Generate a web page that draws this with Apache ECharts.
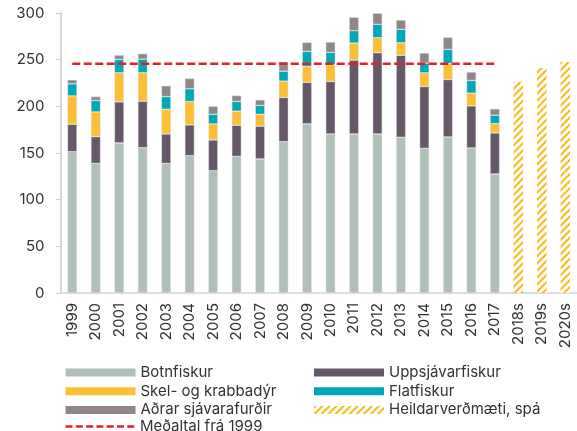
<!DOCTYPE html>
<html><head><meta charset="utf-8">
<script src="https://cdn.jsdelivr.net/npm/echarts@6/dist/echarts.min.js"></script>
<style>html,body{margin:0;padding:0;background:#fff}#c{width:577px;height:431px}</style>
</head><body><div id="c"></div>
<script>
var categories = ['1999','2000','2001','2002','2003','2004','2005','2006','2007','2008','2009','2010','2011','2012','2013','2014','2015','2016','2017','2018s','2019s','2020s'];
var botnfiskur      = [151.4,138.9,160.8,155.7,138.9,147.2,131.0,146.4,143.6,162.2,181.2,170.4,170.4,170.4,166.8,155.0,167.2,155.4,127.5,'-','-','-'];
var uppsjavarfiskur = [29.4,28.7,44.0,49.8,31.5,32.9,33.0,33.3,35.1,47.3,44.4,56.2,79.2,87.0,87.8,66.3,61.6,45.1,44.0,'-','-','-'];
var skel            = [30.4,26.4,31.2,30.5,26.5,25.1,17.2,15.1,12.8,17.5,17.1,17.9,18.2,16.1,13.6,14.6,17.2,13.6,10.0,'-','-','-'];
var flatfiskur      = [12.9,12.2,14.3,14.6,13.6,13.6,10.3,10.4,9.4,10.7,16.2,13.3,13.3,14.4,14.3,10.4,15.0,13.6,9.0,'-','-','-'];
var adrar           = [4.3,4.3,4.6,5.8,11.5,11.1,8.6,6.4,6.0,10.1,9.6,11.1,14.3,11.8,10.0,10.8,12.9,9.0,6.8,'-','-','-'];
var spa             = ['-','-','-','-','-','-','-','-','-','-','-','-','-','-','-','-','-','-','-',226.3,241.0,247.4];
var medaltal        = [245.6,245.6,245.6,245.6,245.6,245.6,245.6,245.6,245.6,245.6,245.6,245.6,245.6,245.6,245.6,245.6,245.6,245.6,245.6,'-','-','-'];
var yTicks = {min:0, max:300, interval:50};

var FONT = 'Inter';
var txt = '#333333';
function bar(name, data, color){
  return {name:name, type:'bar', stack:'a', data:data, barWidth:9.5,
    itemStyle:{color:color, borderColor:'rgba(230,230,230,0.9)', borderWidth:0.5}};
}
var legendText = {fontSize:15, lineHeight:14, color:txt, fontFamily:FONT};
var dashIcon = 'path://M0,0h7v2.5h-7z M10.3,0h7v2.5h-7z M20.6,0h7v2.5h-7z M30.9,0h7v2.5h-7z M41.2,0h7v2.5h-7z M51.5,0h7v2.5h-7z M61.8,0h7v2.5h-7z';
var chart = echarts.init(document.getElementById('c'), null, {renderer:'canvas'});
chart.setOption({
  animation:false,
  textStyle:{fontFamily:FONT},
  grid:{left:60.5, top:13, height:280, width:519},
  xAxis:{type:'category', data:categories,
    axisLine:{lineStyle:{color:'#d4d4d4', width:1.5}}, axisTick:{show:false},
    axisLabel:{rotate:90, margin:10, fontSize:15, color:txt, fontFamily:FONT}},
  yAxis:{type:'value', min:yTicks.min, max:yTicks.max, interval:yTicks.interval,
    splitLine:{show:false},
    axisLine:{show:true, lineStyle:{color:'#c5ceca', width:1.5}},
    axisTick:{show:true, length:5, lineStyle:{color:'#c5ceca'}},
    axisLabel:{margin:16, fontSize:15, color:txt, fontFamily:FONT}},
  legend:[
    {left:65.5, top:365, padding:0, orient:'vertical', itemWidth:70, itemHeight:8, itemGap:3.7,
     icon:'rect', itemStyle:{borderWidth:0}, textStyle:legendText,
     data:['Botnfiskur','Skel- og krabbadýr','Aðrar sjávarafurðir']},
    {left:314, top:365, padding:0, orient:'vertical', itemWidth:70, itemHeight:8, itemGap:3.7,
     icon:'rect', itemStyle:{borderWidth:0}, textStyle:legendText,
     data:['Uppsjávarfiskur','Flatfiskur','Heildarverðmæti, spá']},
    {left:65.5, top:419, padding:0, orient:'vertical', itemWidth:70, itemHeight:2.5, itemGap:0,
     textStyle:{fontSize:15, lineHeight:12, color:txt, fontFamily:FONT},
     data:[{name:'Meðaltal frá 1999', icon:dashIcon}]}
  ],
  series:[
    bar('Botnfiskur', botnfiskur, '#b1bfb9'),
    bar('Uppsjávarfiskur', uppsjavarfiskur, '#655868'),
    bar('Skel- og krabbadýr', skel, '#fbbf36'),
    bar('Flatfiskur', flatfiskur, '#00a7b5'),
    bar('Aðrar sjávarafurðir', adrar, '#918686'),
    {name:'Heildarverðmæti, spá', type:'bar', stack:'a', data:spa, barWidth:9.5,
     itemStyle:{color:'#ffffff', decal:{symbol:'rect', color:'#fdb813', dashArrayX:[1,0], dashArrayY:[2,2.5], rotation:-Math.PI/4, symbolSize:1}}},
    {name:'Meðaltal frá 1999', type:'line', data:medaltal, symbol:'none',
     lineStyle:{color:'#e0202e', width:2.5, type:[8,3.5]}, itemStyle:{color:'#e0202e'}, z:5}
  ]
});
</script></body></html>
